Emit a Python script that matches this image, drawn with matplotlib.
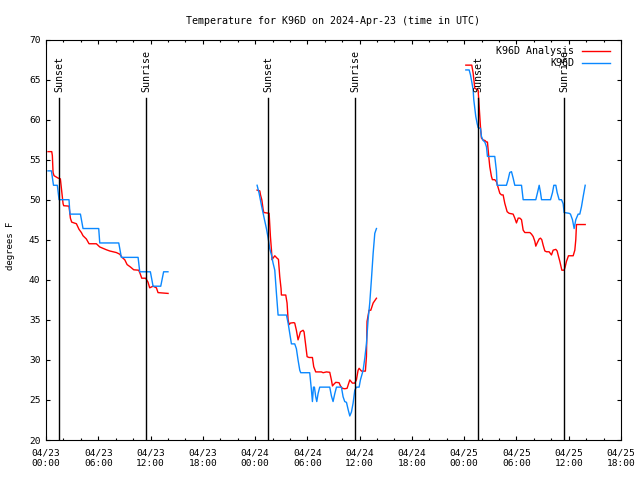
import matplotlib
matplotlib.use('Agg')
import matplotlib.pyplot as plt
import matplotlib.dates as mdates
import pandas as pd

plt.rcParams['font.family'] = 'DejaVu Sans Mono'

# hours after 2024-04-23 00:00 UTC, temperatures in F
t0 = pd.Timestamp('2024-04-23 00:00')

ana_h1 = [0.23, 0.66, 0.73, 0.81, 0.92, 1.38, 1.65, 1.80, 1.96, 2.03, 2.64, 2.80, 2.95, 3.49, 3.79,
          4.06, 4.25, 4.63, 4.94, 5.78, 6.17, 6.93, 7.31, 8.08, 8.46, 8.73, 9.04, 9.31, 9.69, 10.07,
          10.64, 10.83, 10.99, 11.44, 11.71, 11.90, 12.29, 12.67, 12.86, 14.01]
ana_f1 = [56.0, 56.0, 55.5, 53.4, 53.0, 52.7, 52.6, 51.1, 49.5, 49.25, 49.2, 47.7, 47.2, 47.0, 46.3,
          45.9, 45.5, 45.1, 44.5, 44.5, 44.1, 43.75, 43.6, 43.4, 43.2, 42.8, 42.5, 41.9, 41.6, 41.25,
          41.2, 40.7, 40.2, 40.2, 39.7, 39.0, 39.2, 39.0, 38.4, 38.3]

ana_h2 = [24.23, 24.54, 24.62, 24.77, 24.92, 25.0, 25.61, 25.76, 25.88, 25.95, 26.06, 26.26, 26.52,
          26.68, 26.83, 26.98, 27.02, 27.52, 27.67, 27.79, 27.90, 28.06, 28.44, 28.55, 28.74, 28.93,
          29.05, 29.20, 29.51, 29.62, 29.78, 29.97, 30.20, 30.58, 30.73, 30.96, 31.61, 31.81, 32.19,
          32.57, 32.76, 32.88, 33.03, 33.26, 33.64, 33.80, 34.02, 34.29, 34.56, 34.87, 35.17, 35.44,
          35.63, 35.82, 35.94, 36.21, 36.66, 36.78, 36.85, 37.08, 37.28, 37.55, 37.93]
ana_f2 = [51.2, 51.1, 50.6, 50.0, 48.8, 48.4, 48.3, 45.4, 43.7, 42.5, 42.7, 43.0, 42.7,
          42.55, 40.4, 38.9, 38.1, 38.1, 37.1, 35.0, 34.4, 34.6, 34.65, 34.6, 33.7, 32.5,
          32.9, 33.5, 33.7, 33.5, 32.1, 30.4, 30.3, 30.3, 29.15, 28.5, 28.5, 28.4, 28.5,
          28.45, 27.5, 26.75, 26.95, 27.2, 27.15, 26.75, 26.45, 26.4, 26.45, 27.5, 27.1, 27.1,
          27.5, 28.7, 28.95, 28.6, 28.6, 30.4, 34.8, 36.2, 36.2, 37.1, 37.7]

ana_h3 = [48.19, 48.87, 49.03, 49.22, 49.41, 49.60, 49.72, 49.87, 49.98, 50.17, 50.37, 50.56, 50.67,
          50.82, 50.94, 51.13, 51.24, 51.51, 51.70, 52.09, 52.28, 52.47, 52.66, 52.93, 53.16, 53.62,
          53.81, 54.0, 54.2, 54.39, 54.58, 54.77, 54.96, 55.54, 55.73, 55.92, 56.11, 56.22, 56.38,
          56.61, 56.76, 56.91, 57.07, 57.26, 57.45, 57.75, 58.02, 58.21, 58.52, 58.67, 58.83, 58.98,
          59.21, 59.47, 59.59, 59.74, 59.97, 60.51, 60.70, 60.81, 60.89, 61.39, 61.89]
ana_f3 = [66.8, 66.8, 65.8, 63.9, 63.8, 63.7, 61.6, 59.1, 57.7, 57.45, 57.4, 57.2, 57.2,
          55.4, 54.1, 52.9, 52.5, 52.5, 52.25, 50.8, 50.6, 50.6, 49.55, 48.5, 48.3, 48.2,
          47.7, 47.1, 47.7, 47.7, 47.5, 46.2, 45.9, 45.9, 45.7, 45.4, 44.8, 44.2, 44.6,
          45.1, 45.2, 45.0, 44.3, 43.6, 43.5, 43.5, 43.1, 43.7, 43.8, 43.6, 42.9, 42.3,
          41.2, 41.2, 41.6, 42.3, 43.0, 43.0, 43.7, 45.0, 46.9, 46.9, 46.9]

obs_h1 = [0.23, 0.62, 0.78, 0.86, 1.30, 1.50, 2.64, 2.75, 3.95, 4.25, 6.05, 6.17, 8.35, 8.65,
          10.57, 10.76, 11.98, 12.29, 13.17, 13.50, 14.0]
obs_f1 = [53.6, 53.6, 52.4, 51.8, 51.8, 50.0, 50.0, 48.2, 48.2, 46.4, 46.4, 44.6, 44.6, 42.8,
          42.8, 41.0, 41.0, 39.2, 39.2, 41.0, 41.0]

obs_h2 = [24.23, 24.46, 24.73, 25.0, 25.3, 25.5, 25.68, 25.88, 26.06, 26.26, 26.45, 26.64, 27.60,
          27.79, 27.98, 28.17, 28.55, 28.74, 28.93, 29.13, 29.24, 30.27, 30.47, 30.58, 30.70, 30.81,
          30.96, 31.08, 31.23, 31.42, 32.57, 32.76, 32.95, 33.15, 33.34, 33.91, 34.10, 34.29, 34.49,
          34.68, 34.87, 35.06, 35.25, 35.44, 35.63, 35.94, 36.09, 36.40, 36.59, 36.78, 36.97, 37.16,
          37.35, 37.55, 37.74, 37.93]
obs_f2 = [51.8, 50.8, 49.3, 47.9, 46.4, 45.2, 43.9, 43.1, 42.1, 41.2, 38.3, 35.6, 35.6,
          34.6, 33.3, 32.0, 32.0, 31.4, 30.0, 28.7, 28.4, 28.4, 26.2, 24.8, 26.6, 26.6,
          25.4, 24.8, 25.8, 26.6, 26.6, 25.5, 24.8, 25.8, 26.6, 26.6, 25.4, 24.8, 24.7,
          23.8, 23.0, 23.5, 24.6, 26.2, 26.6, 26.6, 27.5, 28.7, 30.2, 32.0, 35.0, 37.1,
          40.0, 43.3, 45.8, 46.4]

obs_h3 = [48.19, 48.57, 48.72, 48.84, 49.03, 49.10, 49.22, 49.33, 49.49, 49.60, 49.87, 49.98, 50.17,
          50.37, 50.56, 50.67, 51.51, 51.70, 51.78, 52.85, 53.04, 53.23, 53.43, 53.62, 53.81, 54.58,
          54.77, 56.22, 56.42, 56.61, 56.76, 56.88, 57.91, 58.14, 58.29, 58.52, 58.67, 58.90, 59.17,
          59.36, 59.47, 60.05, 60.20, 60.43, 60.62, 60.81, 61.08, 61.27, 61.46, 61.66, 61.89]
obs_f3 = [66.2, 66.2, 65.6, 64.9, 63.7, 62.5, 61.4, 60.4, 59.5, 59.0, 58.9, 57.9, 57.4,
          57.2, 56.6, 55.4, 55.4, 53.6, 51.8, 51.8, 52.5, 53.4, 53.5, 52.7, 51.8, 51.8,
          50.0, 50.0, 50.9, 51.8, 50.9, 50.0, 50.0, 50.9, 51.8, 51.8, 50.9, 50.0, 50.0,
          49.5, 48.4, 48.3, 48.2, 47.5, 46.4, 47.5, 48.2, 48.2, 49.1, 50.4, 51.8]

sunset_h = [1.49, 25.49, 49.61]
sunrise_h = [11.48, 35.48, 59.46]


def to_time(hours):
    return t0 + pd.to_timedelta(hours, unit='h')


fig = plt.figure(figsize=(6.4, 4.8), dpi=100)
ax = fig.add_axes([46 / 640, 40 / 480, 575 / 640, 400.5 / 480])

red = '#ff0000'
blue = '#0a88ff'
for i, (h, f) in enumerate([(ana_h1, ana_f1), (ana_h2, ana_f2), (ana_h3, ana_f3)]):
    ax.plot(to_time(h), f, color=red, lw=1.0, label='K96D Analysis' if i == 0 else None)
for i, (h, f) in enumerate([(obs_h1, obs_f1), (obs_h2, obs_f2), (obs_h3, obs_f3)]):
    ax.plot(to_time(h), f, color=blue, lw=1.0, label='K96D' if i == 0 else None)

# sunset / sunrise markers
for h in sunset_h:
    ax.plot([to_time(h)] * 2, [20, 62.7], color='black', lw=1.0)
    ax.text(to_time(h), 63.4, 'Sunset', rotation=90, ha='center', va='bottom', fontsize=7.2)
for h in sunrise_h:
    ax.plot([to_time(h)] * 2, [20, 62.7], color='black', lw=1.0)
    ax.text(to_time(h), 63.4, 'Sunrise', rotation=90, ha='center', va='bottom', fontsize=7.2)

ax.set_xlim(to_time(0), to_time(66))
ax.set_ylim(20, 70)
ax.set_yticks(range(20, 71, 5))
ax.xaxis.set_major_locator(mdates.HourLocator(byhour=[0, 6, 12, 18]))
ax.xaxis.set_minor_locator(mdates.HourLocator(interval=2))
ax.xaxis.set_major_formatter(mdates.DateFormatter('%m/%d\n%H:%M'))
ax.tick_params(which='both', direction='in', top=True, right=True, width=0.8, labelsize=6.8)
ax.tick_params(which='major', length=3.2)
ax.tick_params(which='minor', length=1.6)
ax.tick_params(axis='x', pad=6)
ax.tick_params(axis='y', pad=4)
for s in ax.spines.values():
    s.set_linewidth(0.8)

fig.text(333 / 640, 1 - 21 / 480, 'Temperature for K96D on 2024-Apr-23 (time in UTC)',
         ha='center', va='center', fontsize=7.2)
fig.text(11 / 640, 1 - 246 / 480, 'degrees F', rotation=90, ha='center', va='center', fontsize=6.5)

ax.legend(loc='upper right', bbox_to_anchor=(610 / 640, 1 - 46 / 480),
          bbox_transform=fig.transFigure, frameon=False, markerfirst=False,
          handlelength=2.8, handletextpad=0.8, borderpad=0, borderaxespad=0,
          labelspacing=0.25, fontsize=7.2)

fig.savefig('out.png', dpi=100)
